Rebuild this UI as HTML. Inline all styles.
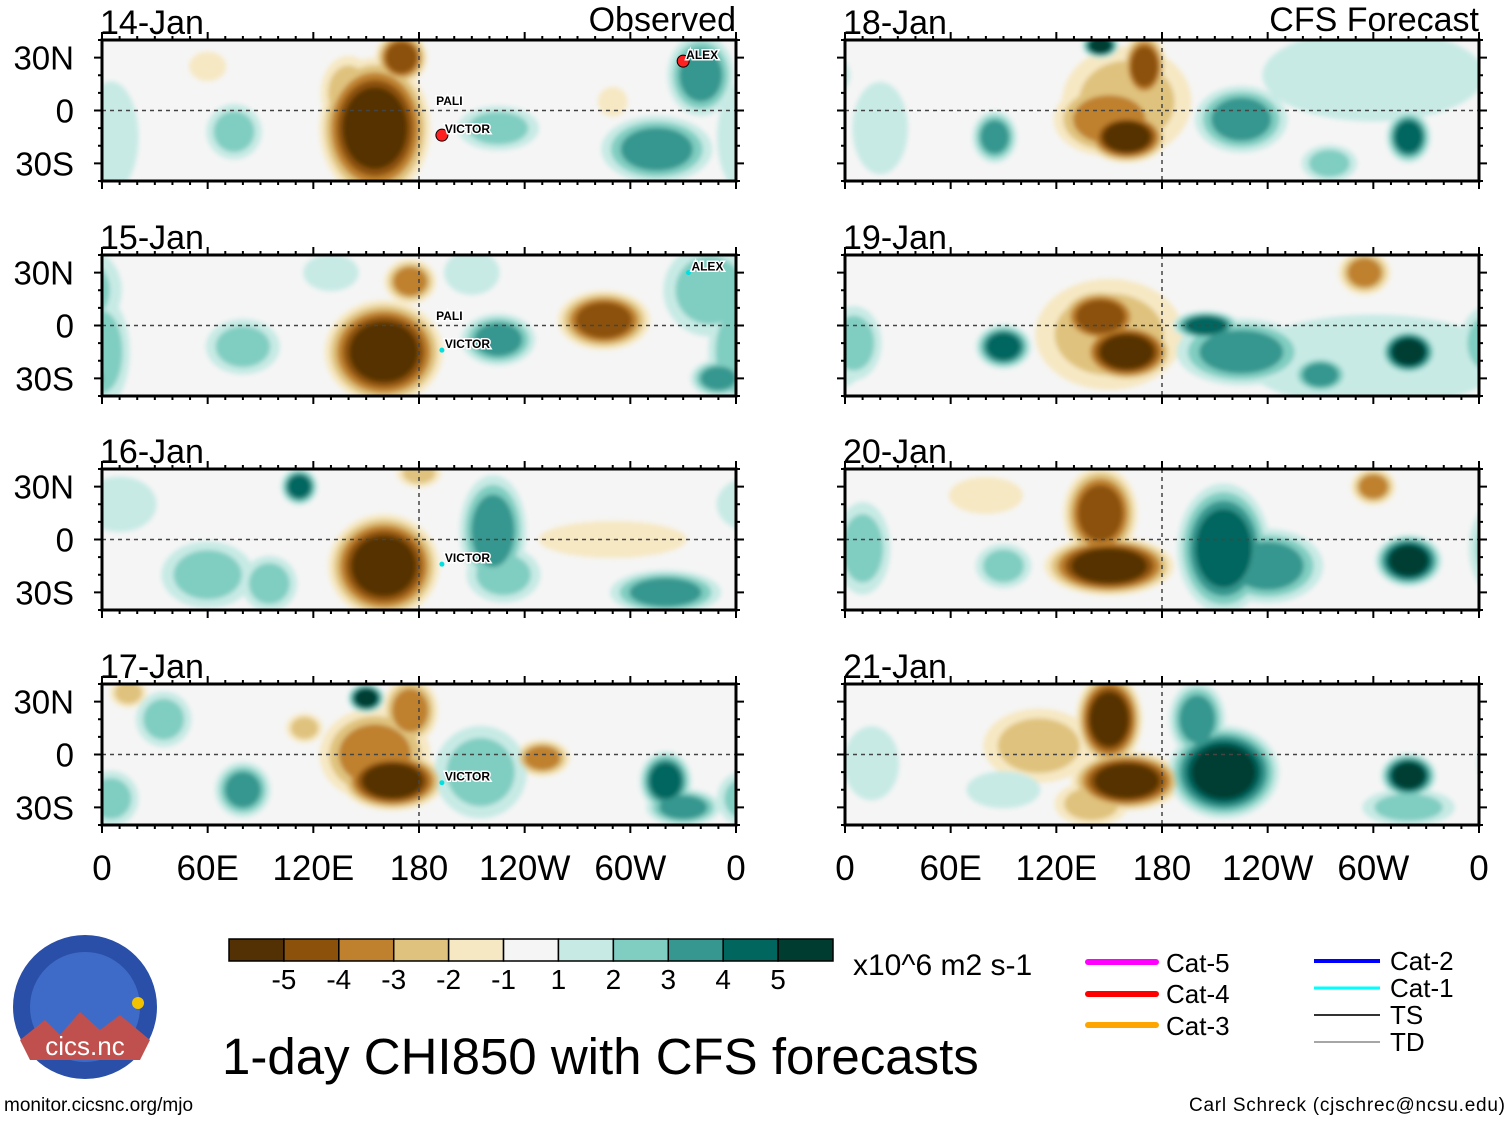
<!DOCTYPE html>
<html><head><meta charset="utf-8"><style>
html,body{margin:0;padding:0;background:#fff;}
svg{display:block;font-family:"Liberation Sans",Arial,sans-serif;}
</style></head><body>
<svg id="chart" width="1510" height="1121" viewBox="0 0 1510 1121" xmlns="http://www.w3.org/2000/svg">
<defs>
<filter id="blur" x="-5%" y="-5%" width="110%" height="110%"><feGaussianBlur stdDeviation="2.5"/></filter>
</defs>
<g id="panels"></g>
<g id="bar"></g>
<g>
<line x1="1088" y1="962" x2="1156" y2="962" stroke="#ff00ff" stroke-width="6" stroke-linecap="round"/>
<line x1="1088" y1="994" x2="1156" y2="994" stroke="#ff0000" stroke-width="6" stroke-linecap="round"/>
<line x1="1088" y1="1025" x2="1156" y2="1025" stroke="#ffa500" stroke-width="6" stroke-linecap="round"/>
<text x="1166" y="972" font-size="26">Cat-5</text>
<text x="1166" y="1003" font-size="26">Cat-4</text>
<text x="1166" y="1035" font-size="26">Cat-3</text>
<line x1="1314" y1="961" x2="1380" y2="961" stroke="#0000ff" stroke-width="4"/>
<line x1="1314" y1="988" x2="1380" y2="988" stroke="#00ffff" stroke-width="3"/>
<line x1="1314" y1="1015" x2="1380" y2="1015" stroke="#333" stroke-width="2"/>
<line x1="1314" y1="1042" x2="1380" y2="1042" stroke="#888" stroke-width="1.5"/>
<text x="1390" y="970" font-size="26">Cat-2</text>
<text x="1390" y="997" font-size="26">Cat-1</text>
<text x="1390" y="1024" font-size="26">TS</text>
<text x="1390" y="1051" font-size="26">TD</text>
</g>
<text x="853" y="975" font-size="30">x10^6 m2 s-1</text>
<text x="222" y="1074" font-size="51">1-day CHI850 with CFS forecasts</text>
<text x="4" y="1111" font-size="19">monitor.cicsnc.org/mjo</text>
<text x="1505" y="1111" font-size="19" text-anchor="end" textLength="316">Carl Schreck (cjschrec@ncsu.edu)</text>
<g>
<circle cx="85" cy="1007" r="72" fill="#2a4fa8"/>
<circle cx="85" cy="1007" r="55" fill="#3d6bc7"/>
<path d="M20 1040 L45 1020 L60 1035 L80 1012 L100 1030 L120 1015 L150 1040 L140 1060 L30 1060 Z" fill="#c0504d"/>
<circle cx="138" cy="1003" r="6" fill="#f2c200"/>
<text x="85" y="1055" font-size="26" fill="#fff" text-anchor="middle">cics.nc</text>
</g>
</svg>
<script>
const levelColors = ["#543005","#8c510a","#bf812d","#dfc27d","#f6e8c3","#f5f5f5","#c7eae5","#80cdc1","#35978f","#01665e","#003c30"];
const barLabels = ["-5","-4","-3","-2","-1","1","2","3","4","5"];
const xTickLabels = ["0","60E","120E","180","120W","60W","0"];
const yTickLabels = ["30N","0","30S"];
const yTickLats = [30,0,-30];
const panelDates = ["14-Jan","15-Jan","16-Jan","17-Jan","18-Jan","19-Jan","20-Jan","21-Jan"];
// Anomaly blobs per panel: [lon, lat, value, rxDeg, ryDeg]
const p14 = [[155,-10,-5,30,38],[170,30,-4,14,14],[140,10,-2,15,20],[340,20,3,18,22],[225,-10,2,22,12],[75,-12,2,15,15],[315,-22,3,30,18],[5,-15,1,15,30],[60,25,-1,10,8],[290,5,-1,8,8]];
const p15 = [[160,-15,-5,32,28],[175,25,-3,14,12],[285,3,-4,25,16],[225,-8,3,20,14],[210,30,1,15,12],[345,20,2,25,25],[0,-15,2,15,30],[80,-12,2,20,15],[350,-30,3,15,10],[130,30,1,15,10]];
const p16 = [[160,-15,-5,30,28],[180,38,-2,12,8],[290,0,-1,40,10],[112,30,4,10,10],[222,5,3,18,30],[228,-20,2,20,15],[320,-30,3,30,12],[60,-20,2,25,18],[95,-25,2,15,15],[10,20,1,20,15]];
const p17 = [[165,-15,-5,28,16],[155,0,-3,30,25],[175,25,-3,15,18],[250,-2,-3,15,10],[15,35,-2,10,8],[115,15,-2,10,8],[150,32,5,10,8],[80,-20,3,15,15],[215,-10,2,25,25],[320,-15,4,14,16],[330,-30,3,20,10],[35,20,2,15,15],[5,-25,2,15,15]];
const p18 = [[160,-15,-5,22,14],[150,-5,-3,30,20],[170,25,-4,12,18],[160,5,-2,35,30],[145,37,5,10,7],[225,-5,3,25,18],[85,-15,3,12,14],[320,-15,4,12,14],[275,-30,2,15,10],[300,20,1,60,25],[20,-10,1,15,25]];
const p19 = [[160,-15,-5,25,16],[145,5,-4,22,15],[150,-5,-2,40,30],[295,30,-3,14,12],[90,-12,4,15,12],[205,0,4,18,8],[225,-15,3,35,18],[320,-15,5,15,12],[270,-28,3,15,10],[300,-20,1,70,25],[5,-10,2,15,20]];
const p20 = [[150,-15,-5,35,16],[145,15,-4,20,25],[215,-5,4,25,35],[240,-15,3,30,20],[320,-12,5,18,14],[300,30,-3,12,10],[90,-15,2,15,12],[10,-5,2,15,25],[80,25,-1,20,10]];
const p21 = [[160,-15,-5,30,16],[150,20,-5,18,25],[110,5,-2,30,20],[140,-28,-2,20,12],[215,-10,5,30,25],[200,20,3,15,20],[320,-12,5,15,12],[320,-30,2,25,10],[90,-20,1,20,10],[15,-5,1,15,20]];
const panelData = [p14,p15,p16,p17,p18,p19,p20,p21];
const storms = [
  [0,"ALEX",330,28,"#ff2020"],[0,"PALI",188,2,"none"],[0,"VICTOR",193,-14,"#ff2020"],
  [1,"ALEX",333,30,"#00e0e0"],[1,"PALI",188,2,"none"],[1,"VICTOR",193,-14,"#00e0e0"],
  [2,"VICTOR",193,-14,"#00e0e0"],[3,"VICTOR",193,-16,"#00e0e0"]
];

const NS="http://www.w3.org/2000/svg";
const colX=[102,845], rowY=[40,255,469,684], PW=634, PH=141;
function xScale(col,lon){return colX[col]+lon/360*PW;}
function yScale(row,lat){return rowY[row]+(40-lat)/80*PH;}
function mk(tag,attrs,parent){const e=document.createElementNS(NS,tag);for(const k in attrs)e.setAttribute(k,attrs[k]);parent.appendChild(e);return e;}
function colorFor(v,k){return v<0?levelColors[5-k]:levelColors[5+k];}
const panels=document.getElementById('panels');
const defs=document.querySelector('defs');
panelData.forEach((blobs,i)=>{
  const col=i<4?0:1,row=i%4;
  const x0=colX[col],y0=rowY[row];
  const cp=mk('clipPath',{id:'cp'+i},defs);
  mk('rect',{x:x0,y:y0,width:PW,height:PH},cp);
  const g=mk('g',{},panels);
  
  
  mk('rect',{x:x0,y:y0,width:PW,height:PH,fill:levelColors[5]},g);
  const f=mk('g',{'clip-path':'url(#cp'+i+')'},g);
  const fg=mk('g',{filter:'url(#blur)'},f);
  for(let k=1;k<=5;k++){
    blobs.forEach(b=>{
      const [lon,lat,v,rx,ry]=b;const n=Math.abs(v);
      if(k>n)return;
      const s=1.05-(k-1)/n*0.55;
      [-360,0,360].forEach(off=>{
        const e=mk('ellipse',{cx:xScale(col,lon+off),cy:yScale(row,lat),rx:rx*s*PW/360,ry:ry*s*PH/80,fill:colorFor(v,k)},fg);
        
        
      });
    });
  }
  mk('line',{x1:x0,x2:x0+PW,y1:yScale(row,0),y2:yScale(row,0),stroke:'#444','stroke-width':1.5,'stroke-dasharray':'4,4'},g);
  mk('line',{x1:xScale(col,180),x2:xScale(col,180),y1:y0,y2:y0+PH,stroke:'#444','stroke-width':1.5,'stroke-dasharray':'4,4'},g);
  mk('rect',{x:x0,y:y0,width:PW,height:PH,fill:'none',stroke:'#000','stroke-width':3},g);
  for(let lon=0;lon<=360;lon+=10){
    const L=lon%60===0?8:4,x=xScale(col,lon);
    mk('line',{x1:x,x2:x,y1:y0,y2:y0-L,stroke:'#000','stroke-width':2},g);
    mk('line',{x1:x,x2:x,y1:y0+PH,y2:y0+PH+L,stroke:'#000','stroke-width':2},g);
  }
  for(let lat=-40;lat<=40;lat+=10){
    const L=lat%30===0?8:4,y=yScale(row,lat);
    mk('line',{x1:x0,x2:x0-L,y1:y,y2:y,stroke:'#000','stroke-width':2},g);
    mk('line',{x1:x0+PW,x2:x0+PW+L,y1:y,y2:y,stroke:'#000','stroke-width':2},g);
  }
  const t=mk('text',{x:x0-2,y:y0-6,'font-size':34},g);t.textContent=panelDates[i];
  
  if(col===0){yTickLabels.forEach((lb,j)=>{const tt=mk('text',{x:74,y:yScale(row,yTickLats[j])+12,'font-size':33,'text-anchor':'end'},g);tt.textContent=lb;
    });}
  if(row===3){xTickLabels.forEach((lb,j)=>{const tt=mk('text',{x:xScale(col,j*60),y:880,'font-size':35,'text-anchor':'middle'},g);tt.textContent=lb;
    });}
});
const o=mk('text',{x:736,y:31,'font-size':34,'text-anchor':'end'},panels);o.textContent='Observed';

const c=mk('text',{x:1479,y:31,'font-size':34,'text-anchor':'end'},panels);c.textContent='CFS Forecast';

storms.forEach(s=>{
  const [i,name,lon,lat,color]=s;const col=i<4?0:1,row=i%4;
  const x=xScale(col,lon),y=yScale(row,lat);
  if(color!=='none'){const m=mk('circle',{cx:x,cy:y,r:color==='#ff2020'?6:2.5,fill:color,stroke:'#000','stroke-width':color==='#ff2020'?1:0},panels);
    }
  const t=mk('text',{x:x+3,y:y-2,'font-size':12,'font-weight':'bold',stroke:'#fff','stroke-width':3,'paint-order':'stroke'},panels);t.textContent=name;
  
});
const bar=document.getElementById('bar');
const bx=229,bw=(833-229)/levelColors.length;
levelColors.forEach((cl,j)=>{
  const r=mk('rect',{x:bx+j*bw,y:939,width:bw,height:22,fill:cl,stroke:'#000','stroke-width':1.5},bar);
  
});
barLabels.forEach((lb,j)=>{
  const t=mk('text',{x:bx+(j+1)*bw,y:989,'font-size':28,'text-anchor':'middle'},bar);t.textContent=lb;
  
});
</script>
</body></html>
